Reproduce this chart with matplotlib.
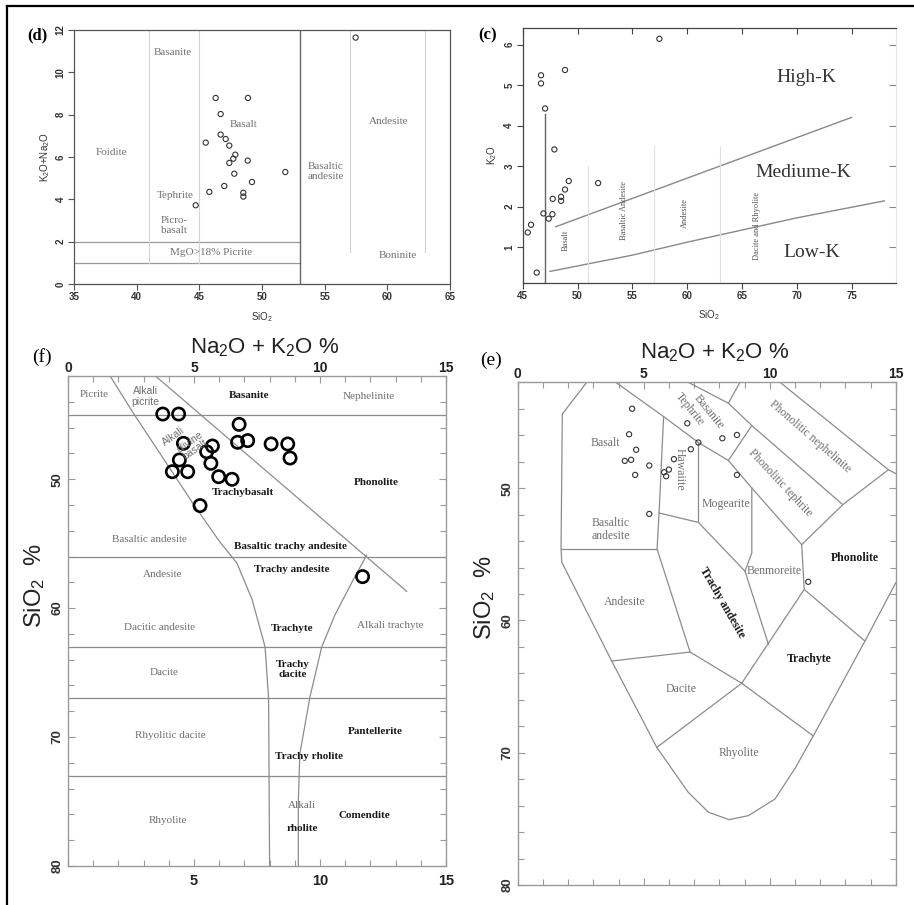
import matplotlib.pyplot as plt
from matplotlib.lines import Line2D
from matplotlib.ticker import MultipleLocator

plt.rcParams['font.family'] = ['Liberation Sans', 'DejaVu Sans']
plt.rcParams['mathtext.fontset'] = 'custom'
plt.rcParams['mathtext.rm'] = 'Liberation Sans'
plt.rcParams['mathtext.it'] = 'Liberation Sans:italic'
plt.rcParams['mathtext.bf'] = 'Liberation Sans:bold'
SERIF = 'Liberation Serif'

# ---- sample data -------------------------------------------------------
# (d) TAS (SiO2 vs K2O+Na2O)
d_sio2 = [57.47, 46.30, 48.88, 46.70, 45.51, 46.70, 47.10, 47.39, 47.87, 47.71,
          47.39, 48.86, 51.86, 47.79, 49.20, 46.99, 45.80, 48.51, 48.51, 44.71]
d_alk = [11.64, 8.79, 8.79, 8.03, 6.68, 7.06, 6.85, 6.54, 6.11, 5.92,
         5.72, 5.83, 5.29, 5.21, 4.82, 4.63, 4.35, 4.31, 4.13, 3.72]

# (c) SiO2 vs K2O
c_sio2 = [57.47, 48.86, 46.67, 46.67, 47.04, 47.89, 49.20, 51.88, 48.86, 47.74,
          48.50, 48.50, 46.89, 47.71, 47.37, 45.76, 45.46, 46.28]
c_k2o = [6.14, 5.37, 5.24, 5.04, 4.42, 3.41, 2.63, 2.58, 2.42, 2.19,
         2.24, 2.14, 1.83, 1.81, 1.70, 1.55, 1.36, 0.37]

# (f) alkali vs SiO2 (inverted)
f_alk = [3.76, 4.39, 6.79, 6.73, 7.13, 8.06, 8.72, 8.81, 4.58, 5.73,
         5.50, 4.42, 5.67, 4.14, 4.75, 5.98, 6.51, 5.24, 11.69]
f_sio2 = [44.95, 44.95, 45.75, 47.14, 47.01, 47.27, 47.27, 48.36, 47.22, 47.43,
          47.87, 48.51, 48.77, 49.42, 49.42, 49.81, 50.01, 52.05, 57.56]

# (e) alkali vs SiO2 (inverted)
e_alk = [4.54, 6.73, 4.42, 8.12, 8.70, 7.17, 4.70, 6.87, 4.25, 4.50,
         5.22, 6.20, 6.00, 5.81, 5.89, 4.66, 8.70, 5.22, 11.53]
e_sio2 = [44.00, 45.10, 45.93, 46.23, 45.98, 46.55, 47.10, 47.06, 47.94, 47.86,
          48.29, 47.81, 48.60, 48.80, 49.10, 49.00, 49.00, 51.95, 57.08]

# ---- field boundaries --------------------------------------------------
d_solid_h = [1, 2]                      # horizontal limits, 35..53
d_light_v = [(41, 1), (45, 1), (57, 1.5), (63, 1.5)]   # x, lower end

c_split = ([47, 47], [0.12, 4.28])
c_high = ([48, 75], [1.50, 4.20])
c_low = ([47.5, 55, 60, 65, 70, 78], [0.40, 0.80, 1.12, 1.42, 1.72, 2.14])
c_light_v = [(51, 3.0), (57, 3.5), (63, 3.5)]

f_hlines = [45, 56, 63, 67, 73]
f_line1 = ([1.67, 2.60, 5.00, 6.00, 6.70, 7.30, 7.82, 7.96, 8.00],
           [42, 44.9, 52.0, 54.8, 56.5, 59.3, 63.0, 67.0, 80])
f_line2 = ([3.47, 13.44], [42, 58.7])
f_line3 = ([11.85, 11.32, 10.60, 10.07, 9.60, 9.20, 9.14, 9.14],
           [55.9, 57.8, 60.5, 63.0, 66.9, 71.3, 75.0, 80])

e_segments = [
    # outer envelope
    ([2.74, 1.77, 1.72, 1.75, 3.73, 5.52, 6.77, 7.57, 8.39, 9.15, 10.21, 11.0, 11.73, 13.78, 15.0],
     [42, 44.4, 54.6, 55.6, 63.07, 69.6, 73.0, 74.5, 75.06, 74.76, 73.5, 71.2, 68.73, 61.56, 57.16]),
    ([3.89, 5.79, 7.17, 8.36, 9.29, 11.27], [42, 44.59, 46.55, 47.91, 49.99, 54.27]),
    ([6.77, 8.36, 9.29, 12.9, 14.71], [42, 43.58, 45.27, 51.25, 48.61]),
    ([8.36, 8.82], [43.58, 42]),
    ([10.41, 14.71, 15.0], [42, 48.61, 48.9]),
    ([9.29, 8.36], [45.27, 47.91]),
    ([12.9, 11.27, 11.37, 13.78], [51.25, 54.27, 57.66, 61.56]),
    ([5.79, 5.61, 5.53, 6.84, 8.89, 11.73], [44.59, 51.88, 54.6, 62.39, 64.75, 68.73]),
    ([5.61, 7.17, 9.02, 9.95], [51.88, 52.59, 56.28, 61.81]),
    ([7.17, 7.17], [46.55, 52.59]),
    ([9.29, 9.29, 9.02], [49.99, 54.9, 56.28]),
    ([1.72, 5.53], [54.6, 54.6]),
    ([3.73, 6.84], [63.07, 62.39]),
    ([5.52, 8.89], [69.6, 64.75]),
    ([11.37, 8.89], [57.66, 64.75]),
]

W, H = 914, 905
fig = plt.figure(figsize=(W / 100, H / 100), dpi=100)


def box(x0, y0, x1, y1):
    return [x0 / W, 1 - y1 / H, (x1 - x0) / W, (y1 - y0) / H]


def lab(ax, x, y, s, size=8, bold=False, color=None, rot=0, family=SERIF):
    ax.text(x, y, s, ha='center', va='center', fontsize=size, rotation=rot,
            rotation_mode='anchor', family=family,
            fontweight='bold' if bold else 'normal',
            color=color or ('#1a1a1a' if bold else '#707070'),
            linespacing=1.1)


def small_ticklabels(ax):
    for t in ax.get_xticklabels() + ax.get_yticklabels():
        t.set_fontweight('bold')
    for t in ax.get_yticklabels():
        t.set_rotation(90)
        t.set_va('center')


# ======================= (d) =============================================
ax = fig.add_axes(box(74, 30, 450, 284))
ax.set_xlim(35, 65)
ax.set_ylim(0, 12)
for s in ax.spines.values():
    s.set_color('#555')
    s.set_linewidth(0.9)
ax.set_xticks(range(35, 66, 5))
ax.set_yticks(range(0, 13, 2))
ax.tick_params(direction='out', length=4, width=0.8, color='#555',
               labelsize=7, labelcolor='#333', pad=2)
small_ticklabels(ax)
for y in d_solid_h:
    ax.plot([35, 53], [y, y], color='#999', lw=0.9)
ax.plot([53, 53], [0, 12], color='#666', lw=1.0)
for x, y0 in d_light_v:
    ax.plot([x, x], [y0, 12], color='#d4d4d4', lw=0.8)
ax.scatter(d_sio2, d_alk, s=14, facecolors='none', edgecolors='#333', linewidths=0.8, zorder=3)
lab(ax, 42.9, 10.96, 'Basanite')
lab(ax, 38.0, 6.2, 'Foidite')
lab(ax, 48.5, 7.55, 'Basalt')
lab(ax, 43.05, 4.16, 'Tephrite')
lab(ax, 43.0, 2.75, 'Picro-\nbasalt')
lab(ax, 45.9, 1.5, 'MgO>18% Picrite')
lab(ax, 55.1, 5.3, 'Basaltic\nandesite')
lab(ax, 60.1, 7.7, 'Andesite')
lab(ax, 60.8, 1.33, 'Boninite')
ax.set_xlabel('SiO$_2$', fontsize=7, color='#333', labelpad=6)
ax.set_ylabel('K$_2$O+Na$_2$O', fontsize=7, color='#333', labelpad=3)
fig.text(37 / W, 1 - 35 / H, '(d)', family=SERIF, fontsize=12, fontweight='bold',
         ha='center', va='center')

# ======================= (c) =============================================
ax = fig.add_axes(box(522.7, 28.3, 895.7, 282.7))
ax.set_xlim(45, 79.03)
ax.set_ylim(0.12, 6.4)
for k in ['left', 'bottom', 'top']:
    ax.spines[k].set_color('#444')
    ax.spines[k].set_linewidth(0.9)
ax.spines['right'].set_visible(False)
ax.set_xticks(range(45, 76, 5))
ax.set_yticks(range(1, 7))
ax.tick_params(direction='out', length=4, width=0.8, color='#444',
               labelsize=7, labelcolor='#333', pad=2)
small_ticklabels(ax)
top = ax.secondary_xaxis('top')
top.set_xticks(range(45, 76, 5))
top.tick_params(direction='in', length=4, width=0.8, color='#444', labeltop=False)
top.spines['top'].set_visible(False)
right = ax.secondary_yaxis('right')
right.set_yticks(range(1, 7))
right.tick_params(direction='in', length=5, width=0.8, color='#888', labelright=False)
right.spines['right'].set_color('#e6e6e6')
ax.plot(*c_split, color='#666', lw=1.0)
ax.plot(*c_high, color='#888', lw=1.0)
ax.plot(*c_low, color='#888', lw=1.0)
for x, y1 in c_light_v:
    ax.plot([x, x], [0.12, y1], color='#e0e0e0', lw=0.8)
ax.scatter(c_sio2, c_k2o, s=14, facecolors='none', edgecolors='#333', linewidths=0.8, zorder=3)
lab(ax, 70.9, 5.19, 'High-K', size=14, color='#333')
lab(ax, 70.6, 2.84, 'Mediume-K', size=14, color='#333')
lab(ax, 71.4, 0.87, 'Low-K', size=14, color='#333')
lab(ax, 48.95, 1.17, 'Basalt', size=6, color='#555', rot=90)
lab(ax, 54.28, 1.90, 'Basaltic Andesite', size=6, color='#555', rot=90)
lab(ax, 59.8, 1.83, 'Andesite', size=6, color='#555', rot=90)
lab(ax, 66.36, 1.52, 'Dacite and Rhyolite', size=6, color='#555', rot=90)
ax.set_xlabel('SiO$_2$', fontsize=7, color='#333', labelpad=5)
ax.set_ylabel('K$_2$O', fontsize=7, color='#333', labelpad=4)
fig.text(488 / W, 1 - 35 / H, '(c)', family=SERIF, fontsize=12, fontweight='bold',
         ha='center', va='center')


# ======================= (f) and (e) shared frame ========================
def tas_frame(ax, bottom_labels):
    ax.set_xlim(0, 15)
    ax.set_ylim(80, 42)
    for s in ax.spines.values():
        s.set_color('#9a9a9a')
        s.set_linewidth(1.0)
    ax.set_xticks([0, 5, 10, 15])
    ax.set_xticklabels(['', '5', '10', '15'] if bottom_labels else [])
    ax.xaxis.set_minor_locator(MultipleLocator(1))
    ax.set_yticks([50, 60, 70, 80])
    ax.yaxis.set_minor_locator(MultipleLocator(2))
    ax.tick_params(which='both', direction='in', color='#9a9a9a', width=0.8,
                   left=True, right=True, bottom=True, top=False)
    ax.tick_params(which='major', length=5)
    ax.tick_params(which='minor', length=4)
    ax.tick_params(axis='x', labelsize=10.5, pad=6, labelcolor='#222')
    ax.tick_params(axis='y', labelsize=9.5, pad=3, labelcolor='#333')
    for t in ax.get_xticklabels() + ax.get_yticklabels():
        t.set_fontweight('bold')
    for t in ax.get_yticklabels():
        t.set_rotation(90)
        t.set_va('center')
    top = ax.secondary_xaxis('top')
    top.set_xticks([0, 5, 10, 15])
    top.xaxis.set_minor_locator(MultipleLocator(1))
    top.tick_params(which='both', direction='in', color='#9a9a9a', width=0.8,
                    labelsize=10, pad=1, labelcolor='#222')
    top.tick_params(which='major', length=5)
    top.tick_params(which='minor', length=4)
    top.spines['top'].set_visible(False)
    for t in top.get_xticklabels():
        t.set_fontweight('bold')


LINE = dict(color='#8c8c8c', lw=0.9)

# ======================= (f) =============================================
ax = fig.add_axes(box(68, 376, 446, 866))
tas_frame(ax, bottom_labels=True)
for y in f_hlines:
    ax.plot([0, 15], [y, y], **LINE)
ax.plot(*f_line1, **LINE)
ax.plot(*f_line2, **LINE)
ax.plot(*f_line3, **LINE)
ax.scatter(f_alk, f_sio2, s=78, facecolors='none', edgecolors='black', linewidths=1.9, zorder=3)
lab(ax, 1.03, 43.42, 'Picrite')
lab(ax, 3.08, 43.6, 'Alkali\npicrite', family='Liberation Sans', size=7.5)
lab(ax, 7.2, 43.55, 'Basanite', bold=True)
lab(ax, 11.92, 43.6, 'Nephelinite')
lab(ax, 4.18, 46.65, 'Alkali', family='Liberation Sans', size=7.5, rot=35)
lab(ax, 4.84, 47.09, 'olivine', family='Liberation Sans', size=7.5, rot=35)
lab(ax, 5.04, 47.74, 'basalt', family='Liberation Sans', size=7.5, rot=35)
lab(ax, 12.25, 50.27, 'Phonolite', bold=True)
lab(ax, 6.93, 51.04, 'Trachybasalt', bold=True)
lab(ax, 3.23, 54.71, 'Basaltic andesite')
lab(ax, 8.84, 55.23, 'Basaltic trachy andesite', bold=True)
lab(ax, 3.74, 57.43, 'Andesite')
lab(ax, 8.88, 57.04, 'Trachy andesite', bold=True)
lab(ax, 3.65, 61.5, 'Dacitic andesite')
lab(ax, 8.88, 61.56, 'Trachyte', bold=True)
lab(ax, 12.8, 61.36, 'Alkali trachyte')
lab(ax, 3.82, 65.0, 'Dacite')
lab(ax, 8.9, 64.74, 'Trachy\ndacite', bold=True)
lab(ax, 4.07, 69.88, 'Rhyolitic dacite')
lab(ax, 12.18, 69.57, 'Pantellerite', bold=True)
lab(ax, 9.58, 71.5, 'Trachy rholite', bold=True)
lab(ax, 3.98, 76.47, 'Rhyolite')
lab(ax, 9.27, 75.3, 'Alkali')
lab(ax, 9.31, 77.07, 'rholite', bold=True)
lab(ax, 11.76, 76.1, 'Comendite', bold=True)
fig.text(265 / W, 1 - 348 / H, 'Na$_2$O + K$_2$O %', fontsize=16, ha='center', va='center', color='#222')
fig.text(35 / W, 1 - 586 / H, 'SiO$_2$  %', fontsize=17, rotation=90, ha='center', va='center', color='#222')
fig.text(42 / W, 1 - 357 / H, '(f)', family=SERIF, fontsize=14, ha='center', va='center')

# ======================= (e) =============================================
ax = fig.add_axes(box(517.7, 382.3, 895.7, 885))
tas_frame(ax, bottom_labels=False)
for xs, ys in e_segments:
    ax.plot(xs, ys, **LINE)
ax.scatter(e_alk, e_sio2, s=14, facecolors='none', edgecolors='#333', linewidths=0.8, zorder=3)
lab(ax, 3.47, 46.6, 'Basalt', size=8.5)
lab(ax, 3.70, 53.14, 'Basaltic\nandesite', size=8.5)
lab(ax, 6.84, 44.04, 'Tephrite', size=8.5, rot=-51)
lab(ax, 7.57, 44.25, 'Basanite', size=8.5, rot=-51)
lab(ax, 6.44, 48.61, 'Hawaiite', size=8.5, rot=-90)
lab(ax, 11.6, 46.1, 'Phonolitic nephelinite', size=8.5, rot=-41)
lab(ax, 10.41, 49.62, 'Phonolitic tephrite', size=8.5, rot=-47)
lab(ax, 8.25, 51.18, 'Mogearite', size=8.5)
lab(ax, 10.17, 56.28, 'Benmoreite', size=8.5)
lab(ax, 13.39, 55.27, 'Phonolite', size=8.5, bold=True)
lab(ax, 4.26, 58.62, 'Andesite', size=8.5)
lab(ax, 8.1, 58.67, 'Trachy andesite', size=8.5, bold=True, rot=-60)
lab(ax, 11.56, 62.94, 'Trachyte', size=8.5, bold=True)
lab(ax, 6.47, 65.15, 'Dacite', size=8.5)
lab(ax, 8.76, 70.05, 'Rhyolite', size=8.5)
fig.text(715 / W, 1 - 353 / H, 'Na$_2$O + K$_2$O %', fontsize=16, ha='center', va='center', color='#222')
fig.text(485 / W, 1 - 598 / H, 'SiO$_2$  %', fontsize=17, rotation=90, ha='center', va='center', color='#222')
fig.text(491 / W, 1 - 360 / H, '(e)', family=SERIF, fontsize=14, ha='center', va='center')

# outer frame (left and top edges)
fig.add_artist(Line2D([7 / W, 7 / W], [0, 1 - 6 / H], color='black', lw=1.6))
fig.add_artist(Line2D([7 / W, 1], [1 - 6 / H, 1 - 6 / H], color='black', lw=1.6))

fig.savefig('out.png', dpi=100)
